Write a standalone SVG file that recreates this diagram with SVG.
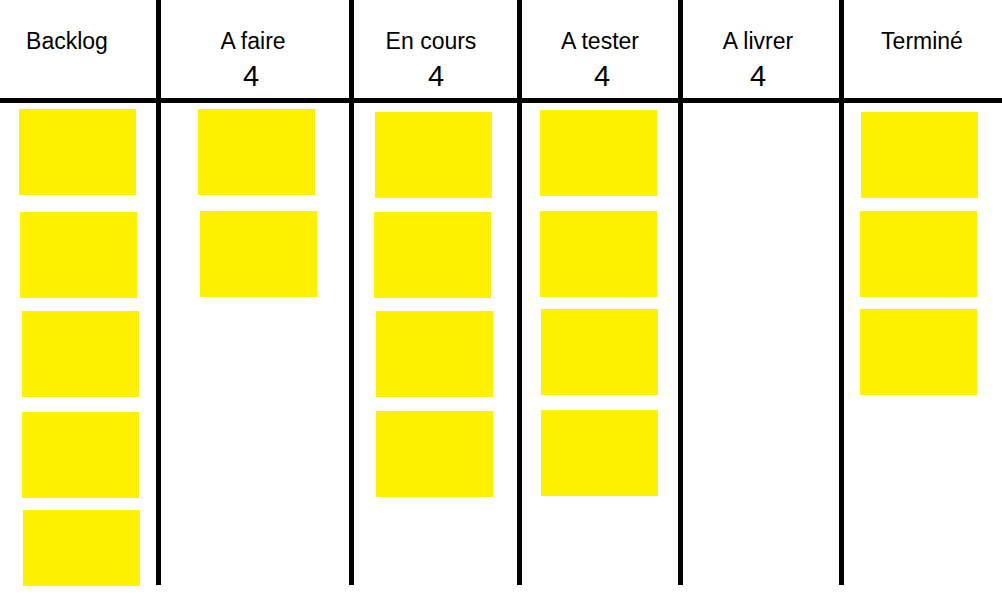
<svg xmlns="http://www.w3.org/2000/svg" width="1002" height="602" viewBox="0 0 1002 602">
<style>
.note{fill:#FFF200}
.head{font-family:"Liberation Sans",Arial,sans-serif;font-size:23px;fill:#000;text-anchor:middle}
.num{font-family:"Liberation Sans",Arial,sans-serif;font-size:29px;fill:#000;text-anchor:middle}
.rule{fill:#000}
</style>
<rect width="1002" height="602" fill="#fff"/>
<g id="grid">
<rect class="rule" x="0" y="98" width="1002" height="5"/>
<rect class="rule" x="156" y="0" width="5" height="585"/>
<rect class="rule" x="349" y="0" width="5" height="585"/>
<rect class="rule" x="517" y="0" width="5" height="585"/>
<rect class="rule" x="678" y="0" width="5" height="585"/>
<rect class="rule" x="839" y="0" width="5" height="585"/>
</g>
<g id="col-backlog">
<text class="head" x="67" y="49">Backlog</text>
<rect class="note" x="19" y="109" width="117" height="86"/>
<rect class="note" x="20" y="212" width="117" height="86"/>
<rect class="note" x="22" y="311" width="117" height="86"/>
<rect class="note" x="22" y="412" width="117" height="86"/>
<rect class="note" x="23" y="510" width="117" height="76"/>
</g>
<g id="col-afaire">
<text class="head" x="253" y="49">A faire</text>
<text class="num" x="251" y="86">4</text>
<rect class="note" x="198" y="109" width="117" height="86"/>
<rect class="note" x="200" y="211" width="117" height="86"/>
</g>
<g id="col-encours">
<text class="head" x="431" y="49">En cours</text>
<text class="num" x="436" y="86">4</text>
<rect class="note" x="375" y="112" width="117" height="86"/>
<rect class="note" x="374" y="212" width="117" height="86"/>
<rect class="note" x="376" y="311" width="117" height="86"/>
<rect class="note" x="376" y="411" width="117" height="86"/>
</g>
<g id="col-atester">
<text class="head" x="600" y="49">A tester</text>
<text class="num" x="602" y="86">4</text>
<rect class="note" x="540" y="110" width="117" height="86"/>
<rect class="note" x="540" y="211" width="117" height="86"/>
<rect class="note" x="541" y="309" width="117" height="86"/>
<rect class="note" x="541" y="410" width="117" height="86"/>
</g>
<g id="col-alivrer">
<text class="head" x="758" y="49">A livrer</text>
<text class="num" x="758" y="86">4</text>
</g>
<g id="col-termine">
<text class="head" x="922" y="49">Terminé</text>
<rect class="note" x="861" y="112" width="117" height="86"/>
<rect class="note" x="860" y="211" width="117" height="86"/>
<rect class="note" x="860" y="309" width="117" height="86"/>
</g>
<g id="connectors"></g>
</svg>
